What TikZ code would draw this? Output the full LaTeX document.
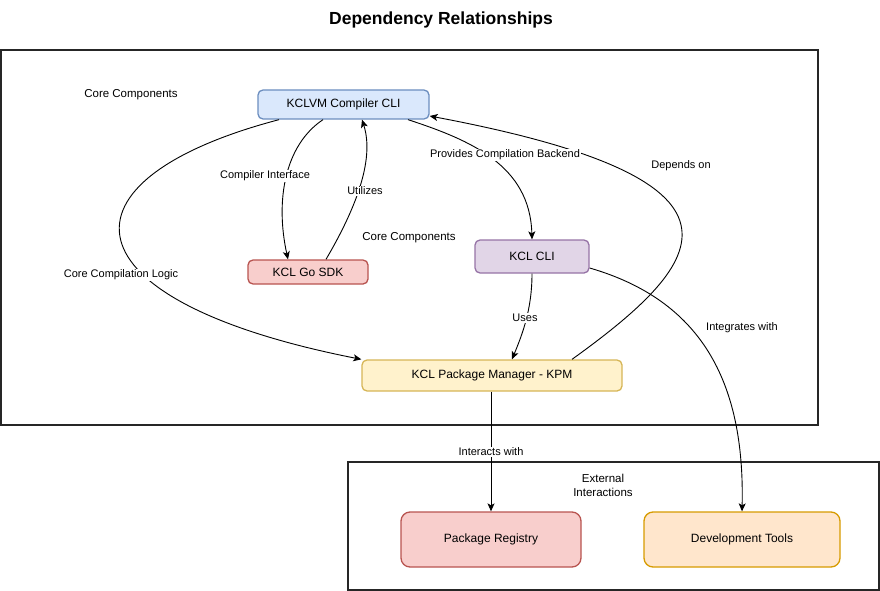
\documentclass[tikz,border=0pt]{standalone}
\usepackage{fontspec}
\setmainfont{Liberation Sans}
\usetikzlibrary{arrows.meta,calc}
\definecolor{blueF}{HTML}{DAE8FC}\definecolor{blueS}{HTML}{6C8EBF}
\definecolor{redF}{HTML}{F8CECC}\definecolor{redS}{HTML}{B85450}
\definecolor{purF}{HTML}{E1D5E7}\definecolor{purS}{HTML}{9673A6}
\definecolor{yelF}{HTML}{FFF2CC}\definecolor{yelS}{HTML}{D6B656}
\definecolor{orF}{HTML}{FFE6CC}\definecolor{orS}{HTML}{D79B00}
\tikzset{
  box/.style={draw, rounded corners=5pt, line width=1.3pt, inner sep=0pt, align=center, font=\fontsize{12}{14}\selectfont},
  bigbox/.style={box, rounded corners=9pt},
  frame/.style={draw=black!85, line width=2pt},
  conn/.style={draw, line width=0.9pt, -{Stealth[length=8pt,width=7pt,inset=2pt]}},
  lbl/.style={fill=white, inner sep=1pt, font=\fontsize{11}{13}\selectfont},
  txt/.style={inner sep=0pt, align=center, font=\fontsize{11.5}{14}\selectfont},
}
\begin{document}
\begin{tikzpicture}[x=1pt,y=-1pt]
\useasboundingbox (0,0) rectangle (880,591);
% frames
\draw[frame] (1,50) rectangle (818,425);
\draw[frame] (348,462) rectangle (879,590);
% title
\node[inner sep=0pt, font=\bfseries\fontsize{17.5}{20}\selectfont] (title) at (441,20) {Dependency Relationships};
% free texts
\node[txt] (cc1) at (131,95) {Core Components};
\node[txt] (cc2) at (409,238) {Core Components};
\node[txt] (ext) at (603,485) {External\\Interactions};
% nodes
\node[box, fill=blueF, draw=blueS, minimum width=171pt, minimum height=29pt] (kclvm) at (343.5,104.5) {KCLVM Compiler CLI};
\node[box, fill=redF, draw=redS, minimum width=120pt, minimum height=24pt] (gosdk) at (308,272) {KCL Go SDK};
\node[box, fill=purF, draw=purS, minimum width=114pt, minimum height=33pt] (kcli) at (532,256.5) {KCL CLI};
\node[box, fill=yelF, draw=yelS, minimum width=260pt, minimum height=31pt] (kpm) at (492,375.5) {KCL Package Manager - KPM};
\node[bigbox, fill=redF, draw=redS, minimum width=180pt, minimum height=55pt] (reg) at (491,539.5) {Package Registry};
\node[bigbox, fill=orF, draw=orS, minimum width=196pt, minimum height=55pt] (dev) at (742,539.5) {Development Tools};
% connectors
\draw[conn] ([xshift=-20.5pt]kclvm.south) .. controls (285,145) and (275,200) .. ([xshift=-20pt]gosdk.north);
\draw[conn] ([xshift=18pt]gosdk.north) .. controls (355,210) and (375,160) .. ([xshift=18.5pt]kclvm.south);
\draw[conn] ([xshift=64.5pt]kclvm.south) .. controls (470,140) and (530,165) .. (kcli.north);
\draw[conn] ([xshift=80pt]kpm.north) .. controls (710,260) and (770,180) .. ([yshift=-11.5pt]kclvm.east);
\draw[conn] ([xshift=-64.5pt]kclvm.south) .. controls (50,180) and (60,300) .. (kpm.north west);
\draw[conn] (kcli.south) .. controls (532,310) and (522,335) .. ([xshift=20pt]kpm.north);
\draw[conn] ([yshift=-11.5pt]kcli.east) .. controls (700,300) and (745,380) .. (dev.north);
\draw[conn] ([xshift=-1pt]kpm.south) -- (reg.north);
% labels
\node[lbl] (l1) at (265,176) {Compiler Interface};
\node[lbl] (l2) at (365,191) {Utilizes};
\node[lbl] (l3) at (505,155) {Provides Compilation Backend};
\node[lbl] (l4) at (681,166) {Depends on};
\node[lbl] (l5) at (121,275) {Core Compilation Logic};
\node[lbl] (l6) at (525,318) {Uses};
\node[lbl] (l7) at (742,328) {Integrates with};
\node[lbl] (l8) at (491,452) {Interacts with};
\end{tikzpicture}
\end{document}
